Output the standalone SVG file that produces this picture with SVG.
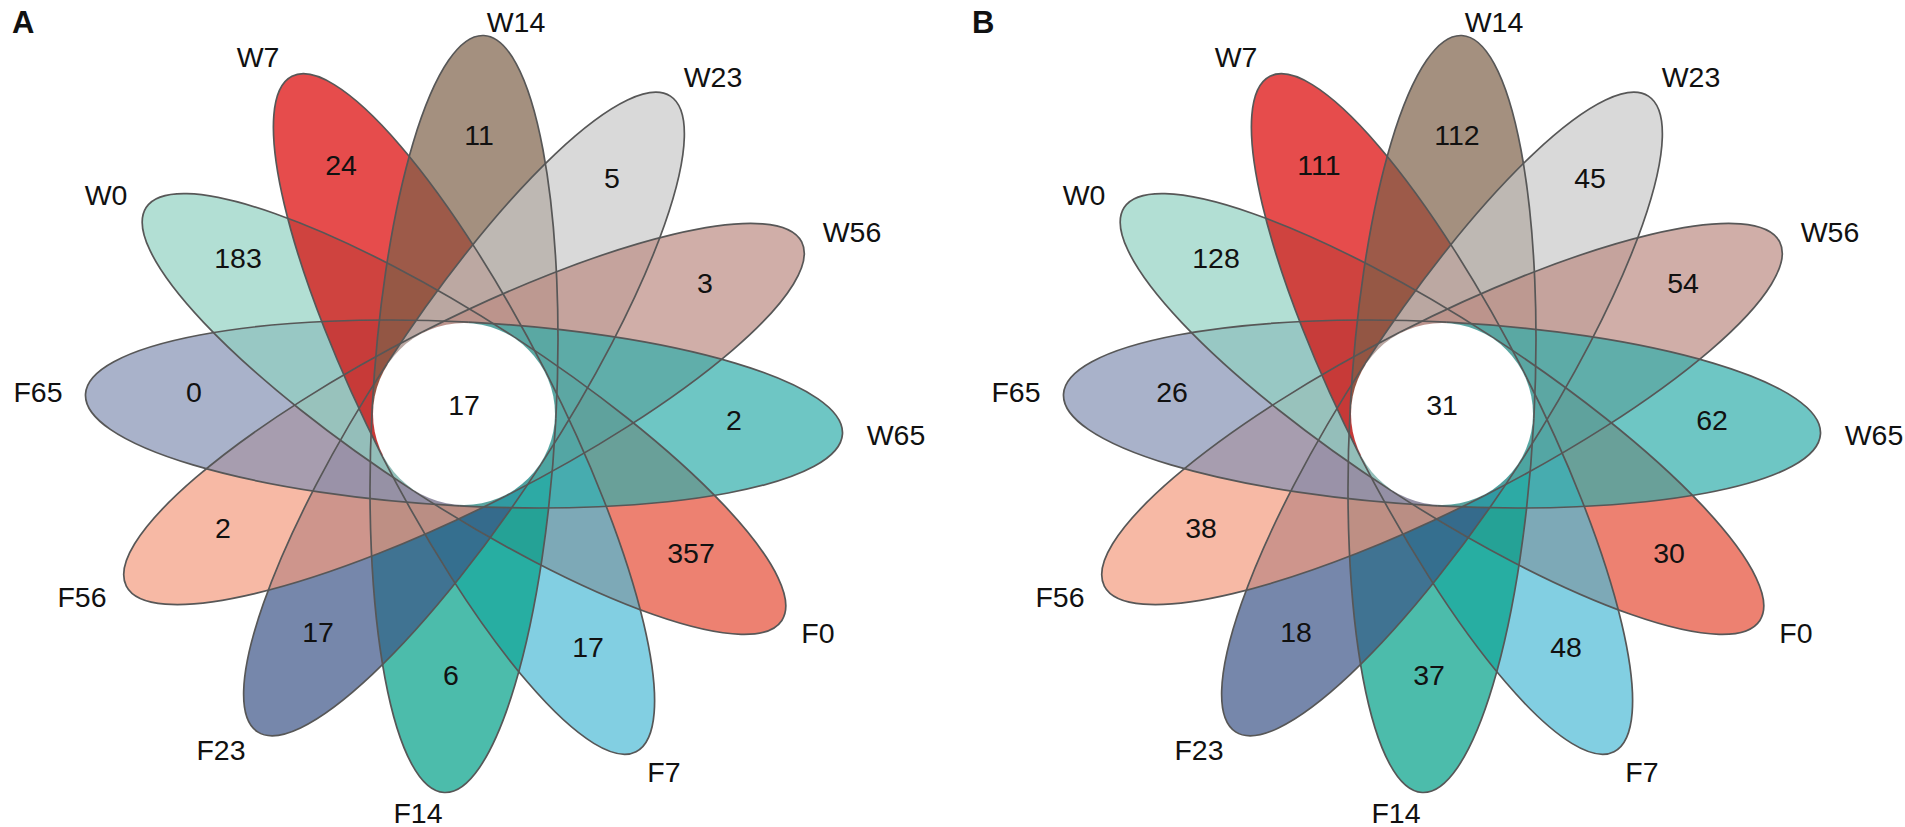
<svg xmlns="http://www.w3.org/2000/svg" xmlns:xlink="http://www.w3.org/1999/xlink" width="1905" height="827" viewBox="0 0 1905 827">
<style>
  text { font-family: "Liberation Sans", Arial, Helvetica, sans-serif; font-size: 28.5px; fill: #111; text-anchor: middle; }
  .panel { font-weight: bold; font-size: 31px; text-anchor: start; }
  .pf { fill-opacity: 0.7; stroke: none; }
  .pe { fill: none; stroke: #575757; stroke-width: 1.7; }
  .core { fill: #ffffff; stroke: none; }
</style>
<defs>
  <path id="half" d="M0,-92 A379,92 0 0 1 0,92 Z"/>
  <path id="arc" d="M0,-92 A379,92 0 0 1 0,92"/>
</defs>
<rect width="1905" height="827" fill="#ffffff"/>

<text class="panel" x="12" y="33">A</text>
<text class="panel" x="972" y="33">B</text>

<!-- Panel A -->
<g id="panelA">
  <g id="A-F0"><use xlink:href="#half" class="pf" fill="#E64B35" transform="translate(464 414) rotate(33)"/><text x="818" y="643">F0</text><text x="691" y="563">357</text></g>
  <g id="A-F7"><use xlink:href="#half" class="pf" fill="#4DBBD5" transform="translate(464 414) rotate(63)"/><text x="664" y="782">F7</text><text x="588" y="657">17</text></g>
  <g id="A-F14"><use xlink:href="#half" class="pf" fill="#00A087" transform="translate(464 414) rotate(93)"/><text x="418" y="823">F14</text><text x="451" y="685">6</text></g>
  <g id="A-F23"><use xlink:href="#half" class="pf" fill="#3C5488" transform="translate(464 414) rotate(123)"/><text x="221" y="760">F23</text><text x="318" y="642">17</text></g>
  <g id="A-F56"><use xlink:href="#half" class="pf" fill="#F39B7F" transform="translate(464 414) rotate(153)"/><text x="82" y="607">F56</text><text x="223" y="538">2</text></g>
  <g id="A-F65"><use xlink:href="#half" class="pf" fill="#8491B4" transform="translate(464 414) rotate(183)"/><text x="38" y="402">F65</text><text x="194" y="402">0</text></g>
  <g id="A-W0"><use xlink:href="#half" class="pf" fill="#91D1C2" transform="translate(464 414) rotate(213)"/><text x="106" y="205">W0</text><text x="238" y="268">183</text></g>
  <g id="A-W7"><use xlink:href="#half" class="pf" fill="#DC0000" transform="translate(464 414) rotate(243)"/><text x="258" y="67">W7</text><text x="341" y="175">24</text></g>
  <g id="A-W14"><use xlink:href="#half" class="pf" fill="#7E6148" transform="translate(464 414) rotate(273)"/><text x="516" y="32">W14</text><text x="479" y="145">11</text></g>
  <g id="A-W23"><use xlink:href="#half" class="pf" fill="#C9C9C9" transform="translate(464 414) rotate(303)"/><text x="713" y="87">W23</text><text x="612" y="188">5</text></g>
  <g id="A-W56"><use xlink:href="#half" class="pf" fill="#BC8B83" transform="translate(464 414) rotate(333)"/><text x="852" y="242">W56</text><text x="705" y="293">3</text></g>
  <g id="A-W65"><use xlink:href="#half" class="pf" fill="#31AEAB" transform="translate(464 414) rotate(3)"/><text x="896" y="445">W65</text><text x="734" y="430">2</text></g>
  <g id="A-outlines" class="pe">
    <use xlink:href="#arc" transform="translate(464 414) rotate(33)"/>
    <use xlink:href="#arc" transform="translate(464 414) rotate(63)"/>
    <use xlink:href="#arc" transform="translate(464 414) rotate(93)"/>
    <use xlink:href="#arc" transform="translate(464 414) rotate(123)"/>
    <use xlink:href="#arc" transform="translate(464 414) rotate(153)"/>
    <use xlink:href="#arc" transform="translate(464 414) rotate(183)"/>
    <use xlink:href="#arc" transform="translate(464 414) rotate(213)"/>
    <use xlink:href="#arc" transform="translate(464 414) rotate(243)"/>
    <use xlink:href="#arc" transform="translate(464 414) rotate(273)"/>
    <use xlink:href="#arc" transform="translate(464 414) rotate(303)"/>
    <use xlink:href="#arc" transform="translate(464 414) rotate(333)"/>
    <use xlink:href="#arc" transform="translate(464 414) rotate(3)"/>
  </g>
  <g id="A-core"><circle class="core" cx="464" cy="414" r="91"/><text x="464" y="415">17</text></g>
</g>

<!-- Panel B -->
<g id="panelB" transform="translate(978 0)">
  <g id="B-F0"><use xlink:href="#half" class="pf" fill="#E64B35" transform="translate(464 414) rotate(33)"/><text x="818" y="643">F0</text><text x="691" y="563">30</text></g>
  <g id="B-F7"><use xlink:href="#half" class="pf" fill="#4DBBD5" transform="translate(464 414) rotate(63)"/><text x="664" y="782">F7</text><text x="588" y="657">48</text></g>
  <g id="B-F14"><use xlink:href="#half" class="pf" fill="#00A087" transform="translate(464 414) rotate(93)"/><text x="418" y="823">F14</text><text x="451" y="685">37</text></g>
  <g id="B-F23"><use xlink:href="#half" class="pf" fill="#3C5488" transform="translate(464 414) rotate(123)"/><text x="221" y="760">F23</text><text x="318" y="642">18</text></g>
  <g id="B-F56"><use xlink:href="#half" class="pf" fill="#F39B7F" transform="translate(464 414) rotate(153)"/><text x="82" y="607">F56</text><text x="223" y="538">38</text></g>
  <g id="B-F65"><use xlink:href="#half" class="pf" fill="#8491B4" transform="translate(464 414) rotate(183)"/><text x="38" y="402">F65</text><text x="194" y="402">26</text></g>
  <g id="B-W0"><use xlink:href="#half" class="pf" fill="#91D1C2" transform="translate(464 414) rotate(213)"/><text x="106" y="205">W0</text><text x="238" y="268">128</text></g>
  <g id="B-W7"><use xlink:href="#half" class="pf" fill="#DC0000" transform="translate(464 414) rotate(243)"/><text x="258" y="67">W7</text><text x="341" y="175">111</text></g>
  <g id="B-W14"><use xlink:href="#half" class="pf" fill="#7E6148" transform="translate(464 414) rotate(273)"/><text x="516" y="32">W14</text><text x="479" y="145">112</text></g>
  <g id="B-W23"><use xlink:href="#half" class="pf" fill="#C9C9C9" transform="translate(464 414) rotate(303)"/><text x="713" y="87">W23</text><text x="612" y="188">45</text></g>
  <g id="B-W56"><use xlink:href="#half" class="pf" fill="#BC8B83" transform="translate(464 414) rotate(333)"/><text x="852" y="242">W56</text><text x="705" y="293">54</text></g>
  <g id="B-W65"><use xlink:href="#half" class="pf" fill="#31AEAB" transform="translate(464 414) rotate(3)"/><text x="896" y="445">W65</text><text x="734" y="430">62</text></g>
  <g id="B-outlines" class="pe">
    <use xlink:href="#arc" transform="translate(464 414) rotate(33)"/>
    <use xlink:href="#arc" transform="translate(464 414) rotate(63)"/>
    <use xlink:href="#arc" transform="translate(464 414) rotate(93)"/>
    <use xlink:href="#arc" transform="translate(464 414) rotate(123)"/>
    <use xlink:href="#arc" transform="translate(464 414) rotate(153)"/>
    <use xlink:href="#arc" transform="translate(464 414) rotate(183)"/>
    <use xlink:href="#arc" transform="translate(464 414) rotate(213)"/>
    <use xlink:href="#arc" transform="translate(464 414) rotate(243)"/>
    <use xlink:href="#arc" transform="translate(464 414) rotate(273)"/>
    <use xlink:href="#arc" transform="translate(464 414) rotate(303)"/>
    <use xlink:href="#arc" transform="translate(464 414) rotate(333)"/>
    <use xlink:href="#arc" transform="translate(464 414) rotate(3)"/>
  </g>
  <g id="B-core"><circle class="core" cx="464" cy="414" r="91"/><text x="464" y="415">31</text></g>
</g>
</svg>
